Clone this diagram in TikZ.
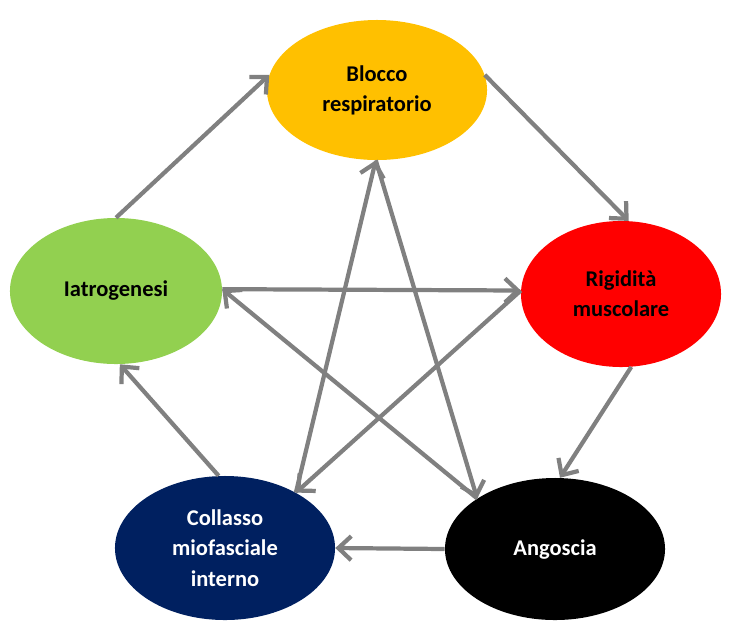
\documentclass[tikz,border=0pt]{standalone}
\usepackage{fontspec}
\setmainfont{Carlito}
\usetikzlibrary{arrows.meta, shapes.geometric}
\definecolor{bloccoyellow}{RGB}{255,192,0}
\definecolor{rigidred}{RGB}{255,0,0}
\definecolor{collnavy}{RGB}{0,32,96}
\definecolor{iatgreen}{RGB}{146,208,80}
\definecolor{arrowgray}{RGB}{128,128,128}

\begin{document}
\begin{tikzpicture}[
		x=0.025cm, y=-0.025cm,
		stato/.style={ellipse, inner sep=0pt, align=center,
			font=\bfseries\fontsize{16}{21.5}\selectfont},
		freccia/.style={-{Straight Barb[length=3.2mm, width=6mm]}, line width=3pt, draw=arrowgray}
	]
		\useasboundingbox (0,0) rectangle (729,621);
		\node[stato, fill=bloccoyellow, minimum width=5.5cm, minimum height=3.5cm] (blocco) at (377,90) {Blocco\\respiratorio};
		\node[stato, fill=rigidred, minimum width=5.0cm, minimum height=3.65cm] (rigid) at (621,294) {Rigidità\\muscolare};
		\node[stato, fill=black, text=white, minimum width=5.5cm, minimum height=3.55cm] (angos) at (555,549) {Angoscia};
		\node[stato, fill=collnavy, text=white, minimum width=5.5cm, minimum height=3.6cm] (collas) at (225,548) {Collasso\\miofasciale\\interno};
		\node[stato, fill=iatgreen, minimum width=5.3cm, minimum height=3.65cm] (iatro) at (116,291) {Iatrogenesi};
		% ciclo esterno
		\draw[freccia] (iatro.90) -- (blocco.172);
		\draw[freccia] (blocco.8) -- (rigid.84);
		\draw[freccia] (rigid.-82) -- (angos.86);
		\draw[freccia] (angos.180) -- (collas.0);
		\draw[freccia] (collas.95) -- (iatro.-87);
		% stella interna
		\draw[freccia] (iatro.1) -- (rigid.178);
		\draw[freccia] (angos.147) -- (iatro.1);
		\draw[freccia] (rigid.178) -- (collas.38);
		\draw[freccia] (collas.38) -- (blocco.-91);
		\draw[freccia] (blocco.-91) -- (angos.147);
	\end{tikzpicture}
\end{document}
